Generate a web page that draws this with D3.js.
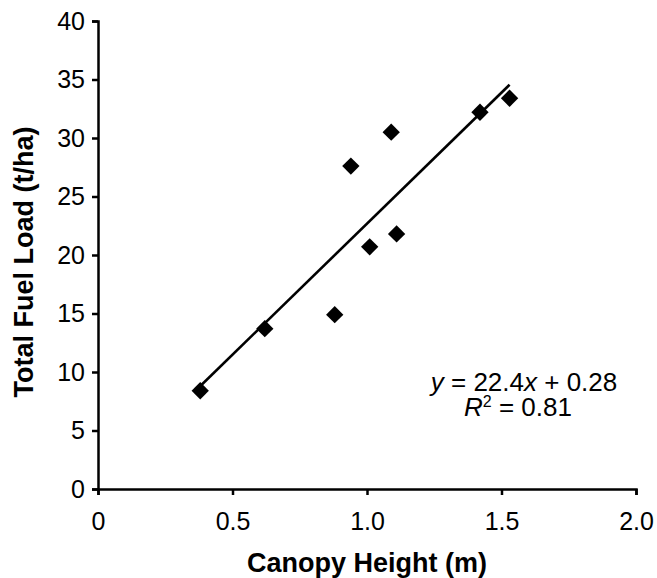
<!DOCTYPE html>
<html>
<head>
<meta charset="utf-8">
<script src="https://cdn.jsdelivr.net/npm/d3@7"></script>
<style>
  body { margin: 0; background: #fff; }
  text { font-family: Arial, "Liberation Sans", sans-serif; fill: #000; }
</style>
</head>
<body>
<svg id="chart" width="657" height="578"></svg>
<script>
// -------------------- DATA -------------------- //
const canopyHeight = [0.38, 0.62, 0.88, 0.94, 1.01, 1.09, 1.11, 1.42, 1.53];
const fuelLoad = [8.4, 13.7, 14.9, 27.6, 20.7, 30.5, 21.8, 32.2, 33.4];
const xTicks = [0, 0.5, 1.0, 1.5, 2.0];
const xTickLabels = ["0", "0.5", "1.0", "1.5", "2.0"];
const yTicks = [0, 5, 10, 15, 20, 25, 30, 35, 40];
const trendSlope = 22.4;
const trendIntercept = 0.28;
const trendRange = [0.37, 1.53];

// -------------------- SETUP -------------------- //
let svg = d3.select("#chart");

let x = d3.scaleLinear().domain([0, 2]).range([98, 636]);
let y = d3.scaleLinear().domain([0, 40]).range([489, 21]);

// axes
let xAxis = svg.append("g")
    .attr("transform", "translate(0," + y(0) + ")")
    .call(d3.axisBottom(x).tickValues(xTicks)
        .tickFormat((d, i) => xTickLabels[i])
        .tickSize(6).tickSizeOuter(6).tickPadding(17));

let yAxis = svg.append("g")
    .attr("transform", "translate(" + x(0) + ",0)")
    .call(d3.axisLeft(y).tickValues(yTicks)
        .tickSize(6).tickSizeOuter(6).tickPadding(7));

[xAxis, yAxis].forEach(g => {
    g.selectAll("path, line").attr("stroke", "#000").attr("stroke-width", 2.5);
    g.selectAll("text").style("font-size", "25px").attr("fill", "#000");
});

// trend line
let line = d3.line().x(d => x(d)).y(d => y(trendSlope * d + trendIntercept));
svg.append("path")
    .datum(trendRange)
    .attr("d", line)
    .attr("fill", "none")
    .attr("stroke", "#000")
    .attr("stroke-width", 2.6);

// diamonds
let diamond = d3.symbol().type(d3.symbolSquare).size(150);
svg.selectAll(".pt")
    .data(canopyHeight)
    .join("path")
    .attr("class", "pt")
    .attr("d", diamond)
    .attr("transform", (d, i) => "translate(" + x(d) + "," + y(fuelLoad[i]) + ") rotate(45)")
    .attr("fill", "#000");

// axis titles
svg.append("text")
    .attr("x", (x(0) + x(2)) / 2)
    .attr("y", 572)
    .attr("text-anchor", "middle")
    .style("font-size", "27px")
    .style("font-weight", "bold")
    .text("Canopy Height (m)");

svg.append("text")
    .attr("transform", "translate(33,262) rotate(-90)")
    .attr("text-anchor", "middle")
    .style("font-size", "27px")
    .style("font-weight", "bold")
    .text("Total Fuel Load (t/ha)");

// equation
let eq = svg.append("text")
    .attr("x", 524)
    .attr("y", 391)
    .attr("text-anchor", "middle")
    .style("font-size", "26px");
eq.append("tspan").style("font-style", "italic").text("y");
eq.append("tspan").text(" = 22.4");
eq.append("tspan").style("font-style", "italic").text("x");
eq.append("tspan").text(" + 0.28");

let r2 = svg.append("text")
    .attr("x", 518)
    .attr("y", 416)
    .attr("text-anchor", "middle")
    .style("font-size", "26px");
r2.append("tspan").style("font-style", "italic").text("R");
r2.append("tspan").attr("dy", -9).style("font-size", "16px").text("2");
r2.append("tspan").attr("dy", 9).text(" = 0.81");
</script>
</body>
</html>
